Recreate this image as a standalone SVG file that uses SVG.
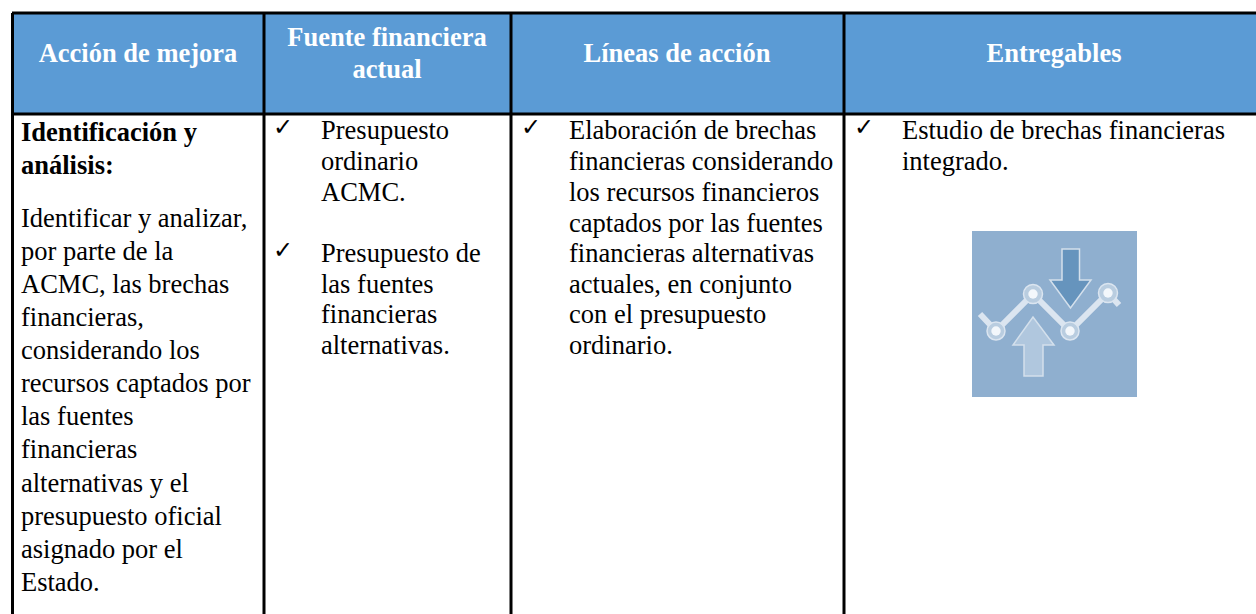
<svg xmlns="http://www.w3.org/2000/svg" width="1256" height="614" viewBox="0 0 1256 614">
<style>
text{font-family:"Liberation Serif","Times New Roman",serif;fill:#000;font-size:26.5px}
.h{font-weight:bold;fill:#fff;text-anchor:middle}
.b{font-weight:bold}
.c{font-family:"DejaVu Sans",sans-serif;font-size:24px}
.g{stroke:#000;stroke-width:3;fill:none}
.l{stroke:#dbe5f0;stroke-width:6;fill:none}
.d{fill:#b9cde0;stroke:#dbe5f0;stroke-width:1.500}
.i{fill:#f3f7fb;stroke:none}
</style>
<rect width="1256" height="614" fill="#fff"/>
<g id="header-band"><rect x="12" y="13" width="1244" height="101" fill="#5b9bd5"/></g>
<g id="connectors" class="g">
<path d="M12 13H1256M12 114H1256M12.500 13V614M264 13V614M511 13V614M844 13V614"/>
</g>
<g id="col1">
<text class="h" x="138" y="62">Acción de mejora</text>
<text class="b" x="21" y="141">Identificación y</text>
<text class="b" x="21" y="174">análisis:</text>
<text x="21" y="227">Identificar y analizar,</text>
<text x="21" y="260">por parte de la</text>
<text x="21" y="293">ACMC, las brechas</text>
<text x="21" y="326">financieras,</text>
<text x="21" y="359">considerando los</text>
<text x="21" y="392">recursos captados por</text>
<text x="21" y="425">las fuentes</text>
<text x="21" y="458">financieras</text>
<text x="21" y="492">alternativas y el</text>
<text x="21" y="525">presupuesto oficial</text>
<text x="21" y="558">asignado por el</text>
<text x="21" y="591">Estado.</text>
</g>
<g id="col2">
<text class="h" x="387" y="46">Fuente financiera</text>
<text class="h" x="387" y="78">actual</text>
<text class="c" x="273" y="135">✓</text>
<text x="321" y="139">Presupuesto</text>
<text x="321" y="170">ordinario</text>
<text x="321" y="201">ACMC.</text>
<text class="c" x="273" y="258">✓</text>
<text x="321" y="262">Presupuesto de</text>
<text x="321" y="293">las fuentes</text>
<text x="321" y="323">financieras</text>
<text x="321" y="354">alternativas.</text>
</g>
<g id="col3">
<text class="h" x="677" y="62">Líneas de acción</text>
<text class="c" x="521" y="135">✓</text>
<text x="569" y="139">Elaboración de brechas</text>
<text x="569" y="170">financieras considerando</text>
<text x="569" y="201">los recursos financieros</text>
<text x="569" y="232">captados por las fuentes</text>
<text x="569" y="262">financieras alternativas</text>
<text x="569" y="293">actuales, en conjunto</text>
<text x="569" y="323">con el presupuesto</text>
<text x="569" y="354">ordinario.</text>
</g>
<g id="col4">
<text class="h" x="1054" y="62">Entregables</text>
<text class="c" x="854" y="135">✓</text>
<text x="902" y="139">Estudio de brechas financieras</text>
<text x="902" y="170">integrado.</text>
</g>
<g id="icon">
<rect x="972" y="231" width="165" height="166" fill="#8fafcf"/>
<path class="l" d="M980 314L996 331L1033 294L1070 331L1108 293L1119 305"/>
<path d="M1062 249H1079.500V280H1091L1070.500 308L1050 280H1062Z" fill="#6694bd" stroke="#d4e0ec" stroke-width="1.500"/>
<path d="M1024 376H1043V345H1054L1033 317L1013 345H1024Z" fill="#b0c7de" stroke="#d4e0ec" stroke-width="1.500"/>
<circle class="d" cx="996" cy="331" r="9"/><circle class="i" cx="996" cy="331" r="4.700"/>
<circle class="d" cx="1033" cy="294" r="9.500"/><circle class="i" cx="1033" cy="294" r="4.700"/>
<circle class="d" cx="1070" cy="331" r="9"/><circle class="i" cx="1070" cy="331" r="4.700"/>
<circle class="d" cx="1108" cy="293" r="9.500"/><circle class="i" cx="1108" cy="293" r="4.700"/>
</g>
</svg>
